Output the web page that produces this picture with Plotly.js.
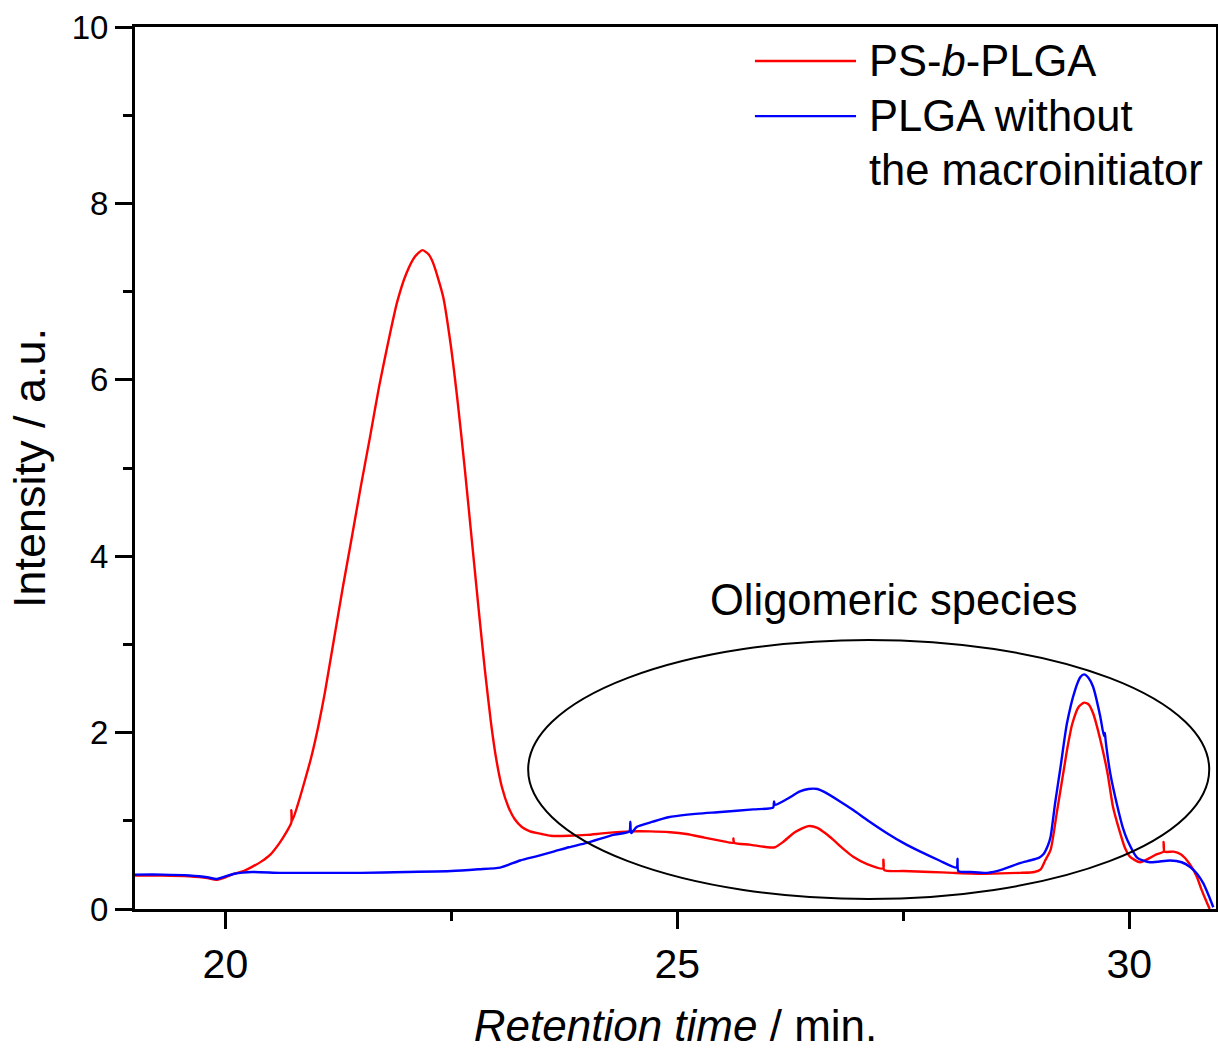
<!DOCTYPE html>
<html>
<head>
<meta charset="utf-8">
<script src="https://cdn.plot.ly/plotly-3.0.1.min.js"></script>
<style>html,body{margin:0;padding:0;background:#fff;}#chart{width:1218px;height:1050px;}</style>
</head>
<body>
<div id="chart"></div>
<script>
// Retention time (min) and intensity (a.u.)
var redTime = [19.0,19.3,19.6,19.8,19.9,20.0,20.1,20.2,20.3,20.4,20.5,20.6,20.68,20.73,20.73,20.74,20.8,20.88,20.95,21.03,21.1,21.2,21.3,21.4,21.5,21.6,21.7,21.8,21.9,22.0,22.1,22.18,22.25,22.3,22.41,22.49,22.57,22.65,22.72,22.8,22.87,22.94,23.0,23.06,23.13,23.2,23.28,23.37,23.5,23.6,23.8,24.0,24.2,24.48,24.7,24.92,25.1,25.3,25.5,25.62,25.62,25.63,25.8,26.0,26.08,26.17,26.3,26.45,26.55,26.65,26.73,26.85,26.95,27.1,27.28,27.28,27.29,27.5,27.8,28.05,28.4,28.79,28.95,29.02,29.07,29.13,29.2,29.27,29.32,29.37,29.44,29.5,29.55,29.6,29.68,29.76,29.82,29.9,29.95,30.01,30.12,30.23,30.3,30.38,30.38,30.39,30.49,30.57,30.64,30.7,30.75,30.8,30.86,30.89];
var redIntensity = [0.38,0.38,0.37,0.35,0.33,0.36,0.40,0.43,0.48,0.54,0.62,0.75,0.88,0.98,1.12,1.00,1.18,1.46,1.72,2.08,2.45,3.05,3.65,4.22,4.8,5.35,5.92,6.42,6.88,7.2,7.4,7.47,7.42,7.32,6.94,6.42,5.75,4.98,4.25,3.42,2.72,2.1,1.68,1.38,1.16,1.02,0.93,0.88,0.85,0.83,0.83,0.84,0.86,0.88,0.88,0.87,0.85,0.81,0.77,0.75,0.80,0.75,0.73,0.70,0.70,0.76,0.87,0.94,0.92,0.85,0.78,0.67,0.59,0.51,0.46,0.56,0.44,0.43,0.42,0.41,0.40,0.41,0.42,0.45,0.55,0.67,1.1,1.54,1.85,2.1,2.29,2.34,2.32,2.22,1.92,1.54,1.16,0.86,0.70,0.59,0.53,0.58,0.62,0.65,0.76,0.65,0.65,0.62,0.55,0.46,0.36,0.22,0.07,0.0];

var blueTime = [19.0,19.3,19.6,19.8,19.9,20.0,20.1,20.3,20.6,21.0,21.5,22.0,22.5,22.8,23.04,23.26,23.45,23.63,23.8,24.0,24.29,24.47,24.48,24.49,24.55,24.73,24.9,25.11,25.48,25.84,26.06,26.07,26.08,26.22,26.35,26.45,26.55,26.62,26.8,26.95,27.1,27.32,27.5,27.69,27.9,28.09,28.1,28.11,28.25,28.43,28.6,28.79,28.9,29.0,29.05,29.1,29.13,29.18,29.24,29.31,29.4,29.46,29.5,29.55,29.6,29.68,29.72,29.73,29.74,29.79,29.87,29.93,29.98,30.09,30.23,30.45,30.58,30.67,30.75,30.82,30.88,30.93];
var blueIntensity = [0.39,0.39,0.38,0.36,0.34,0.37,0.40,0.42,0.41,0.41,0.41,0.42,0.43,0.45,0.47,0.55,0.60,0.65,0.70,0.75,0.84,0.88,0.99,0.86,0.93,0.99,1.04,1.07,1.10,1.13,1.15,1.22,1.18,1.25,1.33,1.36,1.36,1.33,1.22,1.12,1.01,0.86,0.75,0.65,0.55,0.47,0.57,0.43,0.42,0.41,0.45,0.52,0.55,0.58,0.62,0.72,0.82,1.2,1.61,2.1,2.48,2.63,2.66,2.62,2.52,2.18,1.96,2.0,1.9,1.54,1.16,0.92,0.78,0.58,0.53,0.55,0.53,0.48,0.40,0.29,0.15,0.02];

var seriesNames = ["PS-<i>b</i>-PLGA", "PLGA without<br>the macroinitiator"];
var xTickVals = [20, 25, 30];
var yTickVals = [0, 2, 4, 6, 8, 10];

var FONT = "Liberation Sans, Arial, Helvetica, sans-serif";

var traces = [
  {x: redTime, y: redIntensity, type: "scatter", mode: "lines", name: seriesNames[0],
   line: {color: "#ff0000", width: 2.4, shape: "spline", smoothing: 0.6}, showlegend: false, hoverinfo: "x+y"},
  {x: blueTime, y: blueIntensity, type: "scatter", mode: "lines", name: seriesNames[1],
   line: {color: "#0000ff", width: 2.4, shape: "spline", smoothing: 0.6}, showlegend: false, hoverinfo: "x+y"}
];

var layout = {
  width: 1218, height: 1050,
  margin: {l: 135, r: 2, t: 27, b: 141},
  paper_bgcolor: "#fff", plot_bgcolor: "#fff",
  font: {family: FONT, color: "#000"},
  showlegend: false,
  xaxis: {
    range: [19.0, 30.96], showgrid: false, zeroline: false,
    showline: true, linecolor: "#000", linewidth: 3, mirror: true,
    ticks: "outside", ticklen: 17, tickwidth: 3, tickcolor: "#000",
    tickvals: xTickVals, ticktext: xTickVals.map(String),
    tickfont: {size: 41, family: FONT},
    minor: {dtick: 2.5, tick0: 20, ticks: "outside", ticklen: 9, tickwidth: 3, tickcolor: "#000", showgrid: false},
    title: {text: "<i>Retention time</i> / min.", font: {size: 44, family: FONT}, standoff: 26}
  },
  yaxis: {
    range: [0, 10], showgrid: false, zeroline: false,
    showline: true, linecolor: "#000", linewidth: 3, mirror: true,
    ticks: "outside", ticklen: 17, tickwidth: 3, tickcolor: "#000",
    tickvals: yTickVals, ticktext: yTickVals.map(String),
    tickfont: {size: 33, family: FONT},
    minor: {dtick: 1, tick0: 0, ticks: "outside", ticklen: 9, tickwidth: 3, tickcolor: "#000", showgrid: false},
    title: {text: "Intensity / a.u.", font: {size: 45, family: FONT}, standoff: 12}
  },
  shapes: [
    {type: "circle", xref: "x", yref: "y", x0: 23.35, x1: 30.885, y0: 0.113, y1: 3.05,
     line: {color: "#000", width: 2}},
    {type: "line", xref: "paper", yref: "paper", x0: 0.5735, x1: 0.667, y0: 0.9615, y1: 0.9615,
     line: {color: "#ff0000", width: 2.4}},
    {type: "line", xref: "paper", yref: "paper", x0: 0.5735, x1: 0.667, y0: 0.899, y1: 0.899,
     line: {color: "#0000ff", width: 2.4}}
  ],
  annotations: [
    {xref: "x", yref: "y", x: 27.39, y: 3.5, text: "Oligomeric species", showarrow: false,
     font: {size: 43.5, family: FONT}, xanchor: "center", yanchor: "middle"},
    {xref: "paper", yref: "paper", x: 0.677, y: 0.9615, text: seriesNames[0], showarrow: false,
     font: {size: 43.5, family: FONT}, xanchor: "left", yanchor: "middle"},
    {xref: "paper", yref: "paper", x: 0.677, y: 0.899, text: seriesNames[1].split("<br>")[0], showarrow: false,
     font: {size: 43.5, family: FONT}, xanchor: "left", yanchor: "middle"},
    {xref: "paper", yref: "paper", x: 0.677, y: 0.8375, text: seriesNames[1].split("<br>")[1], showarrow: false,
     font: {size: 43.5, family: FONT}, xanchor: "left", yanchor: "middle"}
  ]
};

Plotly.newPlot("chart", traces, layout, {displayModeBar: false, staticPlot: true});
</script>
</body>
</html>
